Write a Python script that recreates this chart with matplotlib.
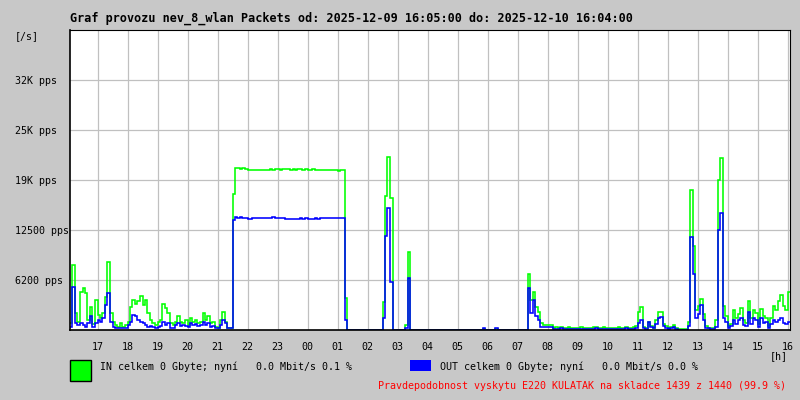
import matplotlib
matplotlib.use("Agg")
import matplotlib.pyplot as plt
from matplotlib.patches import Rectangle
import numpy as np

# 5 minute samples starting 2025-12-09 16:05
start_hour = 16 + 5 / 60
step_hours = 5 / 60

in_pps = [
    830, 8125, 2100, 1000, 4800, 5300, 4600, 1250, 2900, 800, 3800, 1900,
    1500, 2100, 4170, 8450, 2100, 1050, 630, 400, 830, 400, 630, 1050,
    2900, 3800, 3300, 3600, 4300, 3125, 3800, 2100, 1250, 830, 630, 1050,
    1250, 3300, 2700, 2100, 830, 630, 1050, 1700, 1050, 830, 1250, 630,
    1450, 1050, 1250, 830, 1050, 2100, 1250, 1700, 830, 1050, 400, 300,
    1250, 2300, 1050, 300, 300, 17000, 20250, 20200, 20150, 20250, 20100, 20050,
    20000, 20050, 20000, 19950, 20050, 20000, 20000, 20050, 20100, 20050, 20150, 20100,
    20050, 20100, 20150, 20100, 20050, 20100, 20000, 20100, 20150, 20050, 20100, 20000,
    20050, 20100, 20000, 19950, 20050, 20000, 20050, 19950, 20000, 20050, 19950, 19900,
    20000, 19950, 4000, 0, 0, 0, 0, 0, 0, 0, 0, 0,
    0, 0, 0, 0, 0, 3500, 16750, 21600, 16500, 0, 0, 0,
    0, 0, 600, 9750, 0, 0, 0, 0, 0, 0, 0, 0,
    0, 0, 0, 0, 0, 0, 0, 0, 0, 0, 0, 0,
    0, 0, 0, 0, 0, 0, 0, 0, 0, 100, 0, 0,
    0, 0, 150, 0, 0, 0, 0, 0, 0, 0, 0, 0,
    0, 0, 0, 7000, 3750, 4800, 2900, 2300, 830, 625, 625, 625,
    625, 300, 350, 300, 400, 300, 300, 350, 300, 250, 300, 300,
    350, 300, 300, 250, 300, 350, 400, 300, 300, 350, 300, 300,
    250, 300, 300, 350, 300, 300, 400, 300, 300, 350, 500, 2200,
    2900, 400, 300, 1000, 500, 300, 1200, 2200, 2300, 800, 500, 300,
    400, 600, 300, 100, 100, 100, 100, 1000, 17500, 10500, 2500, 3000,
    3900, 2000, 500, 300, 200, 200, 1200, 18750, 21500, 3000, 1800, 500,
    800, 2500, 1500, 2000, 2800, 1200, 900, 3600, 1500, 2500, 2100, 800,
    2600, 1700, 1500, 500, 1500, 3000, 2500, 3600, 4400, 3000, 2500, 4700,
]

out_pps = [
    400, 5400, 830, 600, 830, 600, 400, 830, 1700, 400, 830, 1250,
    1050, 1500, 3125, 4600, 1050, 400, 200, 200, 300, 200, 300, 600,
    1050, 1900, 1700, 1250, 1050, 830, 600, 400, 500, 400, 300, 400,
    500, 1050, 600, 830, 300, 300, 600, 830, 500, 600, 500, 400,
    830, 600, 700, 500, 600, 1050, 600, 830, 400, 500, 200, 200,
    600, 1250, 830, 200, 200, 13700, 14100, 14050, 14100, 14000, 14000, 13900,
    13900, 13950, 14000, 14050, 14050, 14000, 14050, 14000, 14050, 14100, 14000, 14050,
    14000, 13950, 13900, 13850, 13900, 13850, 13900, 13850, 13950, 13900, 13950, 13900,
    13850, 13900, 13950, 13900, 14000, 13950, 14050, 14000, 14000, 14050, 14000, 13950,
    14000, 14000, 1200, 0, 0, 0, 0, 0, 0, 0, 0, 0,
    0, 0, 0, 0, 0, 1500, 11750, 15250, 6000, 0, 0, 0,
    0, 0, 300, 6500, 0, 0, 0, 0, 0, 0, 0, 0,
    0, 0, 0, 0, 0, 0, 0, 0, 0, 0, 0, 0,
    0, 0, 0, 0, 0, 0, 0, 0, 0, 200, 0, 0,
    0, 0, 300, 0, 0, 0, 0, 0, 0, 0, 0, 0,
    0, 0, 0, 5200, 2100, 3750, 1700, 1250, 330, 330, 330, 330,
    330, 120, 150, 100, 200, 100, 120, 150, 100, 100, 120, 100,
    150, 100, 120, 100, 100, 150, 200, 100, 120, 150, 100, 100,
    100, 120, 100, 150, 100, 120, 200, 100, 120, 150, 250, 900,
    1250, 200, 150, 1000, 400, 200, 800, 1500, 1600, 500, 200, 150,
    200, 400, 150, 50, 50, 50, 50, 500, 11600, 7000, 1500, 2000,
    3100, 1200, 300, 200, 100, 100, 400, 12500, 14600, 1500, 1000, 300,
    500, 1200, 800, 1300, 1500, 600, 500, 2300, 700, 1500, 1200, 400,
    1500, 900, 1000, 300, 700, 1200, 1000, 1200, 1500, 900, 800, 1000,
]

hour_ticks = list(range(17, 41))
hour_labels = ["17", "18", "19", "20", "21", "22", "23", "00", "01", "02", "03", "04",
               "05", "06", "07", "08", "09", "10", "11", "12", "13", "14", "15", "16"]
y_ticks = [6250, 12500, 18750, 25000, 31250]
y_labels = ["6200 pps", "12500 pps", "19K pps", "25K pps", "32K pps"]
y_max = 37500

title = "Graf provozu nev_8_wlan Packets od: 2025-12-09 16:05:00 do: 2025-12-10 16:04:00"
in_text = "IN celkem 0 Gbyte; nyní   0.0 Mbit/s 0.1 %"
out_text = "OUT celkem 0 Gbyte; nyní   0.0 Mbit/s 0.0 %"
note_text = "Pravdepodobnost vyskytu E220 KULATAK na skladce 1439 z 1440 (99.9 %)"

mono = "DejaVu Sans Mono"
bg = "#c8c8c8"
W, H = 800, 400

def fx(px):
    return px / W

def fy(py):
    return 1 - py / H

fig = plt.figure(figsize=(8, 4), dpi=100, facecolor=bg)
ax = fig.add_axes([fx(70), fy(330), 720 / W, 300 / H])
ax.set_facecolor("white")

edges = start_hour + np.arange(len(in_pps) + 1) * step_hours
ax.stairs(in_pps, edges, color="#00ff00", lw=1.15, baseline=None, zorder=3)
ax.stairs(out_pps, edges, color="#0000ff", lw=1.15, baseline=None, zorder=4)

ax.set_xlim(start_hour, start_hour + 24)
ax.set_ylim(0, y_max)
ax.set_xticks(hour_ticks, hour_labels)
ax.set_yticks(y_ticks, y_labels)
ax.grid(color="#c0c0c0", lw=0.9, zorder=1)
ax.set_axisbelow(True)
ax.tick_params(length=0, labelsize=7.2)
ax.tick_params(axis="x", pad=9)
ax.tick_params(axis="y", pad=39.6)
for lab in ax.get_yticklabels():
    lab.set_ha("left")
    lab.set_family(mono)
for lab in ax.get_xticklabels():
    lab.set_family(mono)
for side, sp in ax.spines.items():
    sp.set_color("black")
    sp.set_zorder(5)
    sp.set_linewidth(1.2 if side in ("left", "bottom") else 0.8)

fig.text(fx(70), fy(18), title, family=mono, weight="bold", fontsize=8.45, va="center", ha="left")
fig.text(fx(15), fy(36), "[/s]", family=mono, fontsize=7.2, va="center", ha="left")
fig.text(fx(770), fy(356), "[h]", family=mono, fontsize=7.2, va="center", ha="left")

fig.patches.append(Rectangle((fx(70), fy(381)), 21 / W, 21 / H, transform=fig.transFigure,
                             facecolor="#00ff00", edgecolor="black", lw=1))
fig.patches.append(Rectangle((fx(410), fy(371)), 21 / W, 11 / H, transform=fig.transFigure,
                             facecolor="#0000ff", edgecolor="none"))
fig.text(fx(100), fy(367), in_text, family=mono, fontsize=7.2, va="center", ha="left")
fig.text(fx(440), fy(367), out_text, family=mono, fontsize=7.2, va="center", ha="left")
fig.text(fx(786), fy(386), note_text, family=mono, fontsize=7.2, va="center", ha="right", color="red")

fig.savefig("out.png", dpi=100, facecolor=bg)
